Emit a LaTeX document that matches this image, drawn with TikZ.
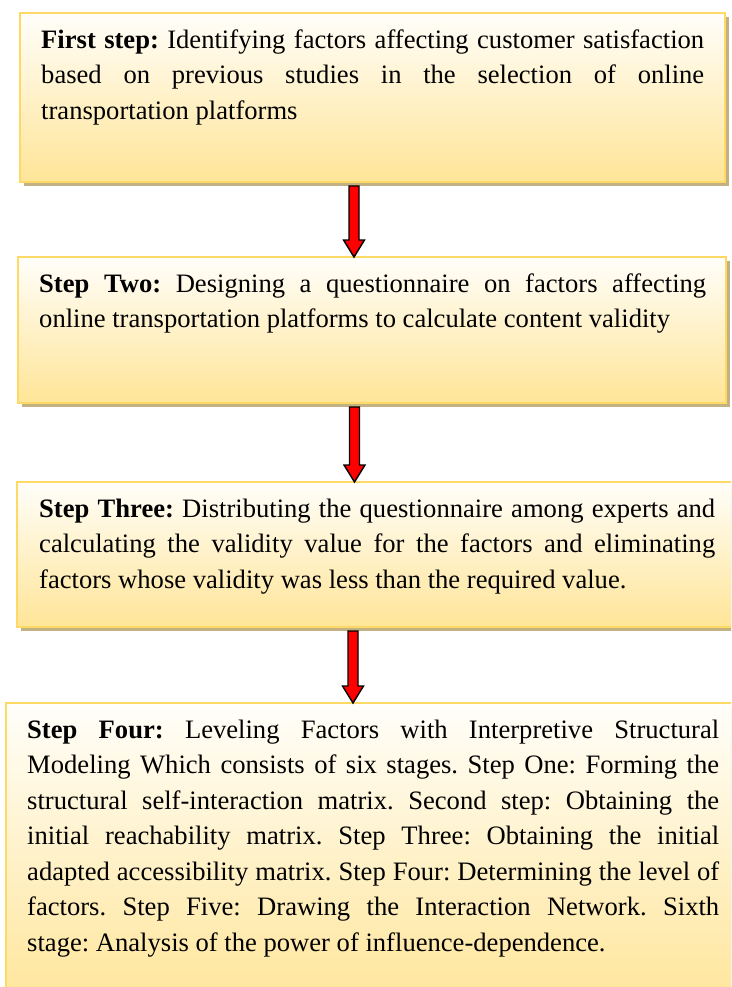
\documentclass[tikz,border=0pt]{standalone}
\usepackage{fontspec}
\setmainfont{Liberation Serif}[Ligatures=CommonOff]
\usetikzlibrary{calc,shadows}
\definecolor{boxline}{HTML}{FFD966}
\definecolor{boxtop}{HTML}{FFFEFA}
\definecolor{boxbottom}{HTML}{FFE597}
\definecolor{shadowtan}{HTML}{C2B183}
\tikzset{
  stepbox/.style={draw=boxline, line width=2pt, top color=boxtop, bottom color=boxbottom,
    anchor=north west, inner sep=0pt, outer sep=0pt,
    drop shadow={shadow xshift=4pt, shadow yshift=-4pt, fill=shadowtan, opacity=1}},
  steptext/.style={anchor=north west, inner sep=0pt, align=justify,
    font=\fontsize{26.6}{35.5}\selectfont\frenchspacing},
  downarrow/.style={fill=red, draw=black, line width=1.4pt, line join=miter}
}
\hyphenpenalty=10000
\tolerance=9999

\begin{document}
\begin{tikzpicture}[x=1pt, y=-1pt]
      \useasboundingbox (0,0) rectangle (731,987);
      \clip (0,0) rectangle (731,987);
      % boxes
      \node[stepbox, minimum width=705pt, minimum height=169pt] (s1) at (20,13) {};
      \node[stepbox, minimum width=708pt, minimum height=146pt] (s2) at (18,257) {};
      \node[stepbox, minimum width=719pt, minimum height=145pt] (s3) at (17,482) {};
      \node[stepbox, minimum width=740pt, minimum height=310pt] (s4) at (6,703) {};
      % texts
      \node[steptext, text width=663pt] (t1) at ($(s1.north west)+(21,10)$)
        {\strut\textbf{First step:} Identifying factors affecting customer satisfaction\linebreak
         based on previous studies in the selection of online\linebreak
         transportation platforms};
      \node[steptext, text width=667pt] (t2) at ($(s2.north west)+(21,10)$)
        {\strut\textbf{Step Two:} Designing a questionnaire on factors affecting\linebreak
         online transportation platforms to calculate content validity};
      \node[steptext, text width=676pt] (t3) at ($(s3.north west)+(22,10)$)
        {\strut\textbf{Step Three:} Distributing the questionnaire among experts and\linebreak
         calculating the validity value for the factors and eliminating\linebreak
         factors whose validity was less than the required value.};
      \node[steptext, text width=692pt] (t4) at ($(s4.north west)+(21,10)$)
        {\strut\textbf{Step Four:} Leveling Factors with Interpretive Structural\linebreak
         Modeling Which consists of six stages. Step One: Forming the\linebreak
         structural self-interaction matrix. Second step: Obtaining the\linebreak
         initial reachability matrix. Step Three: Obtaining the initial\linebreak
         adapted accessibility matrix. Step Four: Determining the level of\linebreak
         factors. Step Five: Drawing the Interaction Network. Sixth\linebreak
         stage: Analysis of the power of influence-dependence.};
      % arrows
      \foreach \a/\b/\ax in {s1/s2/354,s2/s3/354.5,s3/s4/353}{
        \coordinate (ax) at (\ax,0);
        \filldraw[downarrow] ($(ax |- \a.south)+(-5,4)$) -- ($(ax |- \b.north)+(-5,-17)$)
          -- ++(-5.5,0) -- (ax |- \b.north) -- ++(10.5,-17) -- ++(-5.5,0)
          -- ($(ax |- \a.south)+(5,4)$) -- cycle;
      }
    \end{tikzpicture}
\end{document}
